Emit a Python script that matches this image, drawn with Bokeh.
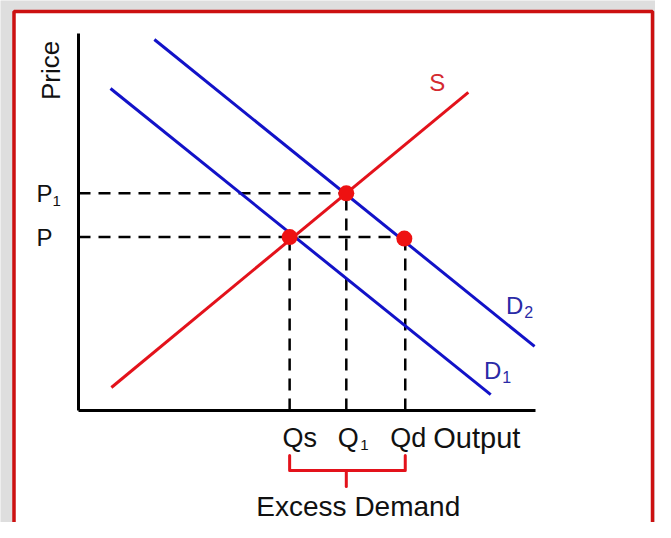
from bokeh.plotting import figure
from bokeh.models import Range1d
from bokeh.core.properties import value
from bokeh.embed import file_html
from bokeh.resources import INLINE

# ---------------- data (diagram units: both axes run 0..10) ----------------
axis_max = [10.0, 10.0]                      # x-axis length, y-axis length
supply_q = [0.72, 8.53]
supply_p = [0.61, 8.44]
demand1_q = [0.70, 9.02]
demand1_p = [8.54, 0.42]
demand2_q = [1.66, 9.98]
demand2_p = [9.84, 1.70]
price_levels = [4.60, 5.76]                  # P, P1
price_main = ["P", "P"]
price_sub = ["", "1"]
quantity_levels = [4.62, 5.86, 7.15]         # Qs, Q1, Qd
quantity_main = ["Qs", "Q", "Qd"]
quantity_sub = ["", "1", ""]
point_q = [4.62, 5.86, 7.13]
point_p = [4.60, 5.76, 4.56]
curve_names = ["S", "D", "D"]
curve_subs = ["", "2", "1"]

# ---------------- styling ----------------
FONT = value("Liberation Sans")
RED = "#e3121b"
BLUE = "#1212c8"
BLUE_TXT = "#2a2aa6"
W, H = 655, 522
OX, OY = 78, 410      # pixel position of the origin
PX_X = 45.7           # pixels per x unit
PX_Y = 37.7           # pixels per y unit

X0, X1 = -OX / PX_X, (W - OX) / PX_X
Y0, Y1 = -(H - OY) / PX_Y, OY / PX_Y

p = figure(width=W, height=H, x_range=Range1d(X0, X1), y_range=Range1d(Y0, Y1),
           output_backend="svg", toolbar_location=None, min_border=0,
           x_axis_type=None, y_axis_type=None)
p.grid.visible = False
p.outline_line_color = None
p.background_fill_color = "#dedede"
p.border_fill_color = "#dedede"

# frame with red border
p.quad(left=[X0 + 13.5 / PX_X], right=[X1 - 3 / PX_X], top=[Y1 - 11 / PX_Y], bottom=[Y0 - 2],
       fill_color="white", line_color="#cc1111", line_width=3.5)

# axes
p.line([0, 0], [0, axis_max[1]], line_color="black", line_width=3)
p.line([0, axis_max[0]], [0, 0], line_color="black", line_width=3)

# dashed guide lines
p.segment(x0=[0, 0], y0=price_levels,
          x1=[point_q[2], point_q[1]], y1=price_levels,
          line_color="black", line_width=2.5, line_dash="12 8")
p.segment(x0=quantity_levels, y0=[0, 0, 0],
          x1=quantity_levels, y1=point_p,
          line_color="black", line_width=2.5, line_dash="12 8")

# curves
p.line(supply_q, supply_p, line_color=RED, line_width=3)
p.line(demand1_q, demand1_p, line_color=BLUE, line_width=3)
p.line(demand2_q, demand2_p, line_color=BLUE, line_width=3)

# points
p.scatter(point_q, point_p, size=16, fill_color="#ee1111", line_color=None)

# y labels
p.text(x=[-42 / PX_X] * 2, y=price_levels, text=price_main, text_font=FONT,
       text_font_size="24px", text_align="left", text_baseline="middle", text_color="#111111")
p.text(x=[-26 / PX_X] * 2, y=[v - 8 / PX_Y for v in price_levels], text=price_sub, text_font=FONT,
       text_font_size="15px", text_align="left", text_baseline="middle", text_color="#111111")
p.text(x=[-28 / PX_X], y=[340 / PX_Y], text=["Price"], angle=1.5708, text_font=FONT,
       text_font_size="26px", text_align="center", text_baseline="middle", text_color="#111111")

# x labels
q_off = [10, 2, 3]
p.text(x=[q + o / PX_X for q, o in zip(quantity_levels, q_off)], y=[-27 / PX_Y] * 3,
       text=quantity_main, text_font=FONT, text_font_size="27px", text_align="center",
       text_baseline="middle", text_color="#111111")
p.text(x=[q + 18 / PX_X for q in quantity_levels], y=[-34 / PX_Y] * 3,
       text=quantity_sub, text_font=FONT, text_font_size="15px", text_align="center",
       text_baseline="middle", text_color="#111111")
p.text(x=[quantity_levels[2] + 28 / PX_X], y=[-27 / PX_Y], text=["Output"], text_font=FONT,
       text_font_size="29px", text_align="left", text_baseline="middle", text_color="#111111")

# bracket
b_top, b_bot, b_tip = -45 / PX_Y, -60 / PX_Y, -76 / PX_Y
p.multi_line(xs=[[quantity_levels[0], quantity_levels[0], quantity_levels[2], quantity_levels[2]],
                 [quantity_levels[1], quantity_levels[1]]],
             ys=[[b_top, b_bot, b_bot, b_top], [b_bot, b_tip]],
             line_color=RED, line_width=3, line_join="round", line_cap="round")
p.text(x=[quantity_levels[1] + 12 / PX_X], y=[-96 / PX_Y], text=["Excess Demand"], text_font=FONT,
       text_font_size="28px", text_align="center", text_baseline="middle", text_color="#111111")

# curve labels
lab_x = [supply_q[1] - 31 / PX_X, demand2_q[1] - 20 / PX_X, demand1_q[1] + 2 / PX_X]
lab_y = [supply_p[1] + 10 / PX_Y, demand2_p[1] + 41 / PX_Y, demand1_p[1] + 24 / PX_Y]
p.text(x=lab_x, y=lab_y, text=curve_names, text_font=FONT, text_font_size="24px",
       text_align="center", text_baseline="middle",
       text_color=["#d42a30", BLUE_TXT, BLUE_TXT])
p.text(x=[lab_x[1] + 14 / PX_X, lab_x[2] + 14 / PX_X],
       y=[lab_y[1] - 7 / PX_Y, lab_y[2] - 6 / PX_Y], text=curve_subs[1:], text_font=FONT,
       text_font_size="16px", text_align="center", text_baseline="middle", text_color=BLUE_TXT)

open("out.html", "w").write(file_html(p, INLINE))
